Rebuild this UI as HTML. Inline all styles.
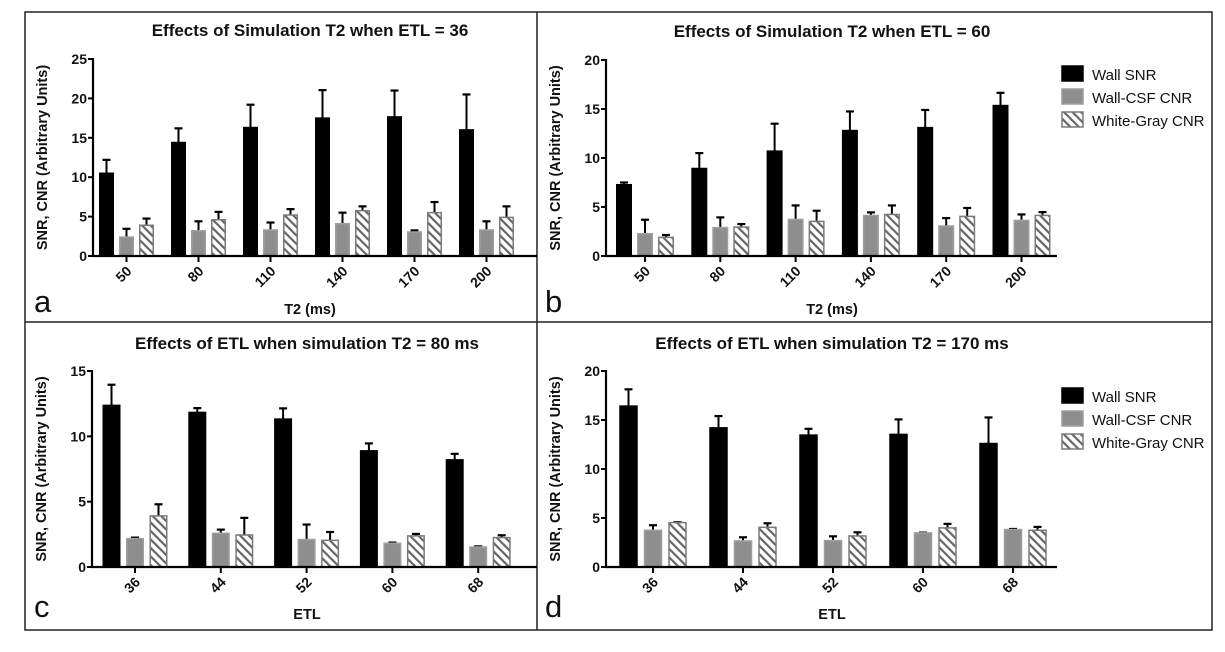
<!DOCTYPE html>
<html><head><meta charset="utf-8"><style>
html,body{margin:0;padding:0;background:#fff;}
svg{display:block;font-family:"Liberation Sans",Arial,sans-serif;}
</style></head><body>
<svg id="fig" width="1225" height="652" viewBox="0 0 1225 652" xmlns="http://www.w3.org/2000/svg">
<defs>
<pattern id="hatch" patternUnits="userSpaceOnUse" width="6" height="6" patternTransform="rotate(-45)">
<rect width="6" height="6" fill="#fff"/><rect x="0" y="0" width="2.2" height="6" fill="#666"/>
</pattern>
</defs>
<rect x="25" y="12" width="1187" height="618" fill="none" stroke="#222" stroke-width="1.5"/>
<line x1="537" y1="12" x2="537" y2="630" stroke="#222" stroke-width="1.5"/>
<line x1="25" y1="322" x2="1212" y2="322" stroke="#222" stroke-width="1.5"/>
</svg>
<script>
// ---- data ----
const catsT2 = ["50","80","110","140","170","200"];
const catsETL = ["36","44","52","60","68"];
const seriesNames = ["Wall SNR","Wall-CSF CNR","White-Gray CNR"];

const aWall = [10.5,14.4,16.3,17.5,17.65,16.0];
const aWallErr = [12.2,16.2,19.2,21.05,21.0,20.5];
const aCsf = [2.4,3.2,3.3,4.1,3.05,3.3];
const aCsfErr = [3.45,4.4,4.25,5.5,3.25,4.4];
const aWg = [3.9,4.6,5.2,5.75,5.5,4.9];
const aWgErr = [4.75,5.6,5.95,6.3,6.85,6.3];

const bWall = [7.27,8.93,10.7,12.8,13.1,15.35];
const bWallErr = [7.5,10.5,13.5,14.75,14.9,16.65];
const bCsf = [2.27,2.9,3.73,4.14,3.06,3.63];
const bCsfErr = [3.7,3.94,5.16,4.45,3.87,4.24];
const bWg = [1.9,2.95,3.53,4.24,4.04,4.14];
const bWgErr = [2.14,3.26,4.62,5.16,4.9,4.48];

const cWall = [12.37,11.83,11.32,8.89,8.2];
const cWallErr = [13.95,12.16,12.14,9.46,8.66];
const cCsf = [2.17,2.58,2.1,1.81,1.53];
const cCsfErr = [2.25,2.86,3.25,1.87,1.58];
const cWg = [3.91,2.45,2.04,2.38,2.25];
const cWgErr = [4.8,3.76,2.68,2.53,2.43];

const dWall = [16.42,14.2,13.46,13.53,12.6];
const dWallErr = [18.13,15.4,14.1,15.06,15.26];
const dCsf = [3.75,2.66,2.69,3.48,3.82];
const dCsfErr = [4.26,3.03,3.13,3.51,3.88];
const dWg = [4.53,4.05,3.17,3.99,3.75];
const dWgErr = [4.57,4.46,3.54,4.4,4.09];

const ticksA = [0,5,10,15,20,25];
const ticksB = [0,5,10,15,20];
const ticksC = [0,5,10,15];
const ticksD = [0,5,10,15,20];

// ---- drawing ----
const svg = document.getElementById('fig');
const NS = 'http://www.w3.org/2000/svg';
function mk(tag, attrs, parent){
  const e = document.createElementNS(NS, tag);
  for (const k in attrs) e.setAttribute(k, attrs[k]);
  (parent||svg).appendChild(e);
  return e;
}
const fills = ['#000','#8e8e8e','url(#hatch)'];
const strokes = ['#000','#9e9e9e','#7a7a7a'];

function panel(cfg){
  const g = mk('g', {});
  
  
  const yScale = v => cfg.y0 - (v - 0) / cfg.ymax * (cfg.y0 - cfg.yTop);
  const xScale = i => cfg.first + i * cfg.step;
  const t = mk('text', {x: cfg.tx, y: cfg.titleY, 'text-anchor':'middle', 'font-size':17, 'font-weight':'bold', fill:'#111'}, g);
  t.textContent = cfg.title;
  
  
  const yl = mk('text', {x:0, y:0, transform:`translate(${cfg.ax-46},${(cfg.y0+cfg.yTop)/2}) rotate(-90)`, 'text-anchor':'middle', 'font-size':14.5, 'font-weight':'bold', fill:'#111'}, g);
  yl.textContent = 'SNR, CNR (Arbitrary Units)';
  
  
  const series = [cfg.s0, cfg.s1, cfg.s2];
  const errs = [cfg.e0, cfg.e1, cfg.e2];
  cfg.cats.forEach((c, i) => {
    const cx = xScale(i);
    for (let s = 0; s < 3; s++) {
      const bc = cx + (s - 1) * cfg.off;
      const yv = yScale(series[s][i]);
      const ye = yScale(errs[s][i]);
      const el = mk('line', {x1:bc, x2:bc, y1:yv, y2:ye, stroke:'#000', 'stroke-width':2}, g);
      
      
      const cap = mk('line', {x1:bc-4, x2:bc+4, y1:ye, y2:ye, stroke:'#000', 'stroke-width':2.2}, g);
      
      
      const r = mk('rect', {x:bc-cfg.bw/2+0.75, y:yv, width:cfg.bw-1.5, height:cfg.y0-yv, fill:fills[s], stroke:strokes[s], 'stroke-width':1.5}, g);
      
      
    }
    const tk = mk('line', {x1:cx, x2:cx, y1:cfg.y0, y2:cfg.y0+6, stroke:'#000', 'stroke-width':2}, g);
    
    
    const tl = mk('text', {x:0, y:0, transform:`translate(${cx+6},${cfg.y0+16}) rotate(-45)`, 'text-anchor':'end', 'font-size':14, 'font-weight':'bold', fill:'#111'}, g);
    tl.textContent = c;
    
    
  });
  const ya = mk('line', {x1:cfg.ax, x2:cfg.ax, y1:cfg.yTop-1, y2:cfg.y0+1, stroke:'#000', 'stroke-width':2.2}, g);
  
  
  const xa = mk('line', {x1:cfg.ax-1, x2:cfg.axEnd, y1:cfg.y0, y2:cfg.y0, stroke:'#000', 'stroke-width':2.2}, g);
  
  
  cfg.ticks.forEach(v => {
    const yy = yScale(v);
    const tk = mk('line', {x1:cfg.ax-5, x2:cfg.ax, y1:yy, y2:yy, stroke:'#000', 'stroke-width':2}, g);
    
    
    const tl = mk('text', {x:cfg.ax-6, y:yy+5, 'text-anchor':'end', 'font-size':14, 'font-weight':'bold', fill:'#111'}, g);
    tl.textContent = v;
    
    
  });
  const xt = mk('text', {x:cfg.tx, y:cfg.xTitleY, 'text-anchor':'middle', 'font-size':14.5, 'font-weight':'bold', fill:'#111'}, g);
  xt.textContent = cfg.xTitle;
  
  
  const lt = mk('text', {x:cfg.lx, y:cfg.xTitleY-2, 'font-size':31, fill:'#111'}, g);
  lt.textContent = cfg.key;
  
  
  if (cfg.legendY) {
    seriesNames.forEach((n, s) => {
      const yy = cfg.legendY + s * 23;
      const sw = mk('rect', {x:cfg.axEnd+5, y:yy-8, width:21, height:15, fill:fills[s], stroke:strokes[s], 'stroke-width':1.5}, g);
      
      
      const lt2 = mk('text', {x:cfg.axEnd+35, y:yy+6, 'font-size':15, fill:'#111'}, g);
      lt2.textContent = n;
      
      
    });
  }
}

panel({name:'panel-a', key:'a', title:'Effects of Simulation T2 when ETL = 36', xTitle:'T2 (ms)', cats:catsT2,
  s0:aWall,e0:aWallErr,s1:aCsf,e1:aCsfErr,s2:aWg,e2:aWgErr, ticks:ticksA, ymax:25,
  ax:93, axEnd:537, y0:256, yTop:59, first:126.5, step:72, bw:15, off:20, tx:310, titleY:36, xTitleY:314, lx:34});
panel({name:'panel-b', key:'b', title:'Effects of Simulation T2 when ETL = 60', xTitle:'T2 (ms)', cats:catsT2,
  s0:bWall,e0:bWallErr,s1:bCsf,e1:bCsfErr,s2:bWg,e2:bWgErr, ticks:ticksB, ymax:20,
  ax:606, axEnd:1057, y0:256, yTop:60, first:645, step:75.3, bw:16, off:21, tx:832, titleY:37, xTitleY:314, lx:545, legendY:74});
panel({name:'panel-c', key:'c', title:'Effects of ETL when simulation T2 = 80 ms', xTitle:'ETL', cats:catsETL,
  s0:cWall,e0:cWallErr,s1:cCsf,e1:cCsfErr,s2:cWg,e2:cWgErr, ticks:ticksC, ymax:15,
  ax:92, axEnd:537, y0:567, yTop:371, first:135, step:85.8, bw:18, off:23.5, tx:307, titleY:349, xTitleY:619, lx:34});
panel({name:'panel-d', key:'d', title:'Effects of ETL when simulation T2 = 170 ms', xTitle:'ETL', cats:catsETL,
  s0:dWall,e0:dWallErr,s1:dCsf,e1:dCsfErr,s2:dWg,e2:dWgErr, ticks:ticksD, ymax:20,
  ax:606, axEnd:1057, y0:567, yTop:371, first:653, step:90, bw:18.5, off:24.5, tx:832, titleY:349, xTitleY:619, lx:545, legendY:396});
</script>
</body></html>
